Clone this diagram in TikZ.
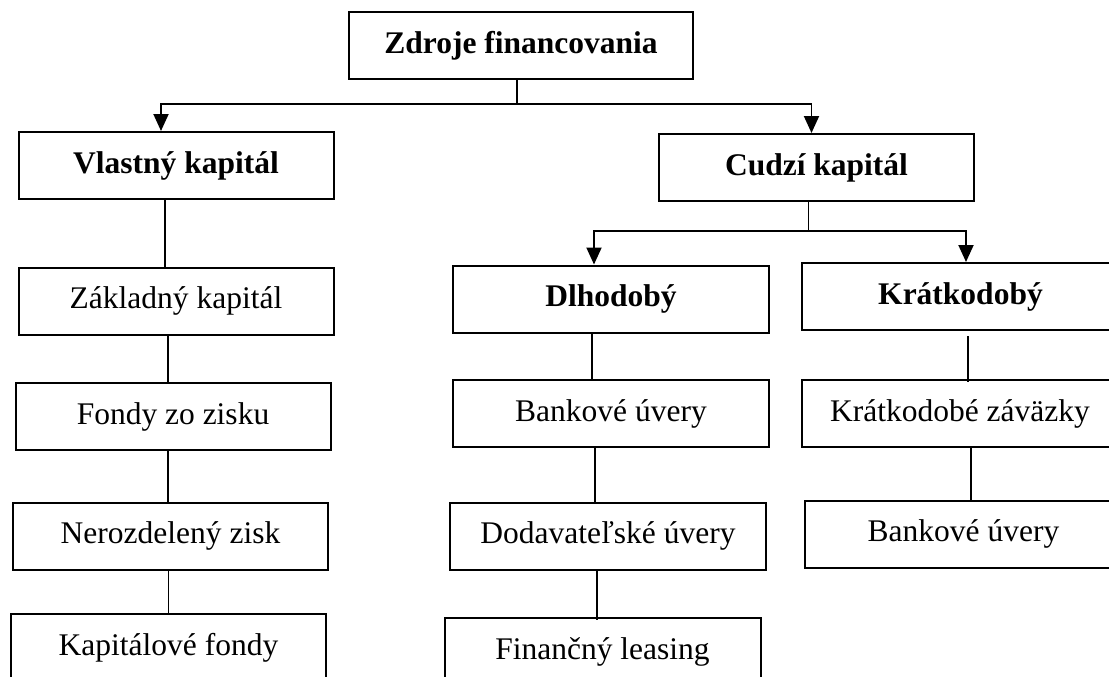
\documentclass[tikz,border=0pt]{standalone}
\usepackage{fontspec}
\setmainfont{Liberation Serif}
\usepackage{tikz}
\usetikzlibrary{arrows.meta, positioning}

\begin{document}
\begin{tikzpicture}[
    x=1pt, y=-1pt,
    box/.style={draw, line width=2pt, minimum width=315pt, minimum height=67pt,
                inner sep=0pt, font=\fontsize{31.5}{38}\selectfont},
    head/.style={box, font=\fontsize{31.5}{38}\selectfont\bfseries},
    link/.style={line width=1.9pt},
    tip/.style={link, -{Triangle[length=17pt, width=15pt]}},
  ]
  \useasboundingbox (0,0) rectangle (1109,677);
  \clip (0,0) rectangle (1109,677);

  % Top
  \node[head, minimum width=344pt] (zdroje) at (521, 45.5) {Zdroje financovania};
  \node[head] (vlastny) at (176, 165.5) {Vlastný kapitál};
  \node[head] (cudzi)   at (816.5, 167.5) {Cudzí kapitál};

  % Vlastny kapital
  \node[box] (zakladny)    at (176, 301)   {Základný kapitál};
  \node[box] (fondy)       at (173, 416.5) {Fondy zo zisku};
  \node[box] (nerozdeleny) at (170.5, 536) {Nerozdelený zisk};
  \node[box] (kapitalove)  at (168.5, 647.5) {Kapitálové fondy};

  % Cudzi kapital
  \node[head, minimum width=316pt] (dlhodoby)   at (611, 299)   {Dlhodobý};
  \node[head, minimum width=330pt] (kratkodoby) at (967, 296.5) {\hspace*{-13pt}Krátkodobý};
  \node[box, minimum width=316pt] (bankoveD)     at (611, 413.5) {Bankové úvery};
  \node[box, minimum width=316pt] (dodavatelske) at (608, 536)   {Dodavateľské úvery};
  \node[box, minimum width=316pt] (financny)     at (602.5, 651.5) {Finančný leasing};
  \node[box, minimum width=330pt] (zavazky)      at (967, 413.5) {\hspace*{-14pt}Krátkodobé záväzky};
  \node[box, minimum width=330pt] (bankoveK)     at (970, 534) {\hspace*{-13pt}Bankové úvery};

  % connectors from the top
  \coordinate (bus1) at ([xshift=-4pt, yshift=-24pt]zdroje.south);
  \draw[link] ([xshift=-4pt]zdroje.south) -- (bus1);
  \draw[tip] (bus1) -| ([xshift=-15pt]vlastny.north);
  \draw[tip] (bus1) -| ([xshift=-5pt]cudzi.north);

  \coordinate (bus2) at ([xshift=-8pt, yshift=-29pt]cudzi.south);
  \draw[link] ([xshift=-8pt]cudzi.south) -- (bus2);
  \draw[tip] (bus2) -| ([xshift=-17pt]dlhodoby.north);
  \draw[tip] (bus2) -| ([xshift=-1pt]kratkodoby.north);

  % columns
  \draw[link] ([xshift=-11pt]vlastny.south) -- ([xshift=-11pt]vlastny.south |- zakladny.north);
  \draw[link] ([xshift=-8pt]zakladny.south) -- ([xshift=-8pt]zakladny.south |- fondy.north);
  \draw[link] ([xshift=-5pt]fondy.south) -- ([xshift=-5pt]fondy.south |- nerozdeleny.north);
  \draw[link] ([xshift=-2pt]nerozdeleny.south) -- ([xshift=-2pt]nerozdeleny.south |- kapitalove.north);

  \draw[link] ([xshift=-19pt]dlhodoby.south) -- ([xshift=-19pt]dlhodoby.south |- bankoveD.north);
  \draw[link] ([xshift=-16pt]bankoveD.south) -- ([xshift=-16pt]bankoveD.south |- dodavatelske.north);
  \draw[link] ([xshift=-11pt]dodavatelske.south) -- ([xshift=-11pt,yshift=-3pt]dodavatelske.south |- financny.north);

  \draw[link] ([xshift=1pt,yshift=-5pt]kratkodoby.south) -- ([xshift=1pt,yshift=-3pt]kratkodoby.south |- zavazky.north);
  \draw[link] ([xshift=4pt]zavazky.south) -- ([xshift=4pt]zavazky.south |- bankoveK.north);
\end{tikzpicture}
\end{document}
